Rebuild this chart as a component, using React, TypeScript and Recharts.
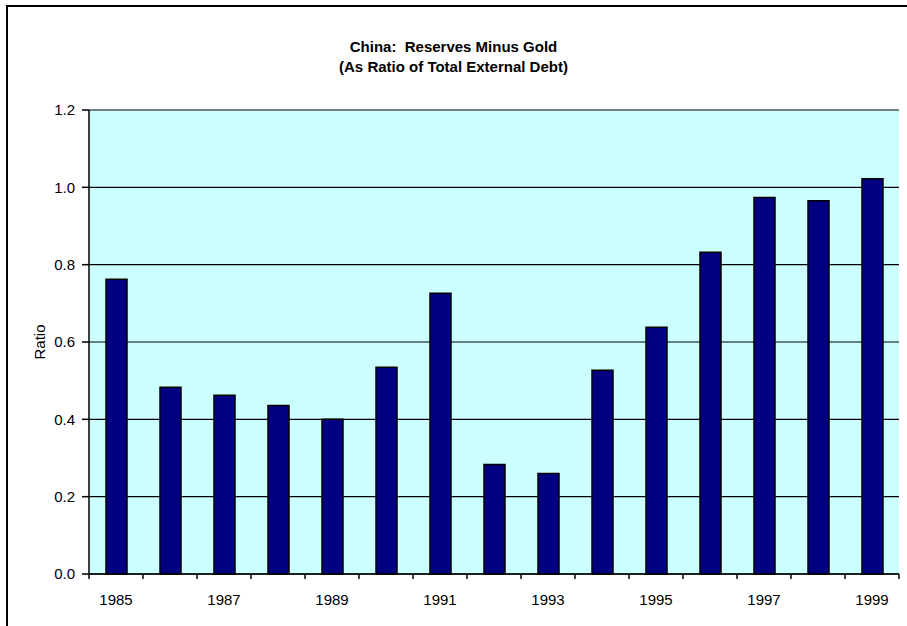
import React from 'react';
import { BarChart, Bar, XAxis, YAxis, CartesianGrid } from 'recharts';

const YEARS = ['1985','1986','1987','1988','1989','1990','1991','1992','1993','1994','1995','1996','1997','1998','1999'];
const RATIOS = [0.762, 0.483, 0.462, 0.436, 0.400, 0.535, 0.726, 0.283, 0.260, 0.527, 0.638, 0.832, 0.974, 0.965, 1.022];
const Y_TICKS = [0, 0.2, 0.4, 0.6, 0.8, 1.0, 1.2];
const TITLE_LINES = ['China:  Reserves Minus Gold', '(As Ratio of Total External Debt)'];
const Y_LABEL = 'Ratio';

const data = YEARS.map((y, i) => ({ year: y, ratio: RATIOS[i] }));

const W = 907;
const H = 626;
const Y_W = 60;
const X_H = 40;
const MARGIN = { top: 110, right: 8, bottom: 12, left: 29 };
const PLOT_W = W - MARGIN.left - MARGIN.right - Y_W;
const FONT = '"Liberation Sans", Arial, sans-serif';

const XTick = (props: any) => {
  const { x, y, payload, index } = props;
  const band = PLOT_W / YEARS.length;
  const left = x - band / 2;
  const right = x + band / 2;
  return (
    <g>
      <line x1={left} x2={left} y1={y} y2={y + 5} stroke="#000" strokeWidth={1.5} />
      {index === YEARS.length - 1 && (
        <line x1={right} x2={right} y1={y} y2={y + 5} stroke="#000" strokeWidth={1.5} />
      )}
      {index % 2 === 0 && (
        <text x={x} y={y + 31} textAnchor="middle" fill="#000" fontSize={15} fontFamily={FONT}>
          {payload.value}
        </text>
      )}
    </g>
  );
};

const RatioLabel = (props: any) => {
  const vb = props.viewBox || {};
  const cx = (vb.x ?? 29) + 10;
  const cy = (vb.y ?? 110) + (vb.height ?? 464) / 2;
  return (
    <text
      x={cx}
      y={cy}
      transform={`rotate(-90 ${cx} ${cy})`}
      textAnchor="middle"
      dominantBaseline="central"
      fill="#000"
      fontSize={15}
      fontFamily={FONT}
    >
      {Y_LABEL}
    </text>
  );
};

export default function App() {
  return (
    <div style={{ position: 'absolute', left: 0, top: 0, width: W, height: H, overflow: 'hidden', background: '#fff' }}>
      <div
        style={{
          position: 'absolute',
          left: 6,
          top: 5,
          width: 1000,
          height: 1000,
          border: '2px solid #000',
          boxSizing: 'border-box',
        }}
      />
      <div
        style={{
          position: 'absolute',
          left: 0,
          top: 37,
          width: W,
          textAlign: 'center',
          fontFamily: FONT,
          fontWeight: 'bold',
          fontSize: 15,
          lineHeight: '20px',
          color: '#000',
        }}
      >
        {TITLE_LINES.map((t) => (
          <div key={t} style={{ whiteSpace: 'pre' }}>{t}</div>
        ))}
      </div>
      <div style={{ position: 'absolute', left: 0, top: 0 }}>
        <BarChart width={W} height={H} data={data} margin={MARGIN} barSize={21}>
          <CartesianGrid horizontal vertical={false} fill="#CCFFFF" fillOpacity={1} stroke="#000" strokeWidth={1.2} />
          <XAxis
            xAxisId="top"
            orientation="top"
            dataKey="year"
            height={0}
            tick={false}
            tickLine={false}
            axisLine={{ stroke: '#808080', strokeWidth: 2 }}
          />
          <XAxis
            dataKey="year"
            height={X_H}
            interval={0}
            tickLine={false}
            tickSize={0}
            tickMargin={0}
            axisLine={{ stroke: '#000', strokeWidth: 1.5 }}
            tick={<XTick />}
          />
          <YAxis
            yAxisId="right"
            orientation="right"
            width={0}
            domain={[0, 1.2]}
            ticks={Y_TICKS}
            tick={false}
            tickLine={false}
            axisLine={{ stroke: '#808080', strokeWidth: 2 }}
          />
          <YAxis
            width={Y_W}
            domain={[0, 1.2]}
            ticks={Y_TICKS}
            interval={0}
            tickFormatter={(v: number) => v.toFixed(1)}
            tick={{ fill: '#000', fontSize: 15, fontFamily: FONT }}
            tickSize={7}
            tickMargin={7}
            tickLine={{ stroke: '#000', strokeWidth: 1.5 }}
            axisLine={{ stroke: '#000', strokeWidth: 1.5 }}
            label={<RatioLabel />}
          />
          <Bar dataKey="ratio" fill="#000080" stroke="#000" strokeWidth={1.5} isAnimationActive={false} />
        </BarChart>
      </div>
    </div>
  );
}
